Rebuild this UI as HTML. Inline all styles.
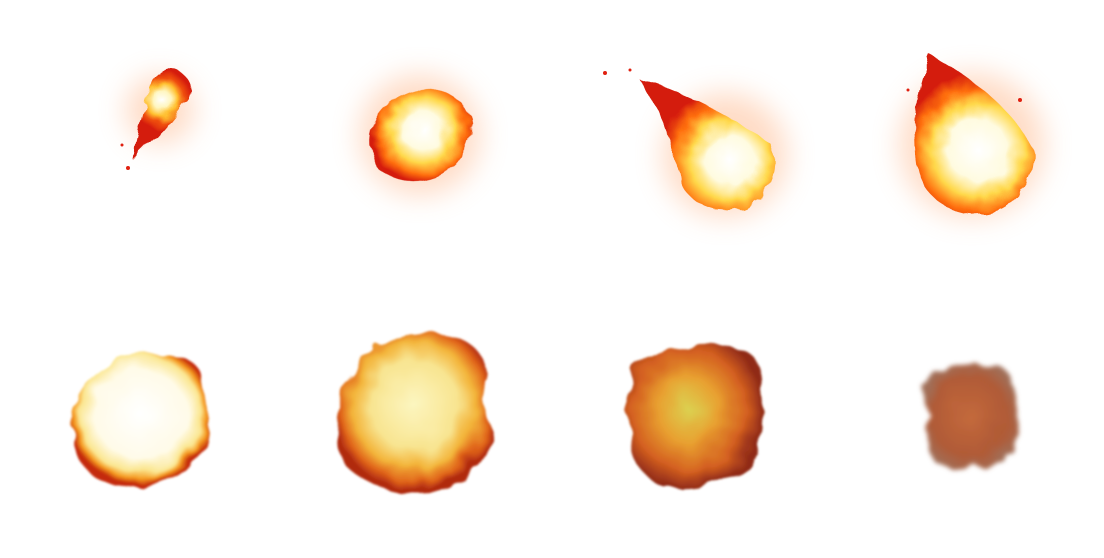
<!DOCTYPE html>
<html><head><meta charset="utf-8"><style>
html,body{margin:0;padding:0;background:#fff;width:1104px;height:558px;overflow:hidden}
</style></head><body>
<svg width="1104" height="558" viewBox="0 0 1104 558">
<defs>
<filter id="rough" x="-20%" y="-20%" width="140%" height="140%">
<feTurbulence type="fractalNoise" baseFrequency="0.06" numOctaves="2" seed="3"/>
<feDisplacementMap in="SourceGraphic" scale="10"/>
</filter>
<filter id="roughSoft" x="-30%" y="-30%" width="160%" height="160%">
<feTurbulence type="fractalNoise" baseFrequency="0.04" numOctaves="2" seed="7" result="n"/>
<feDisplacementMap in="SourceGraphic" in2="n" scale="14" result="d"/>
<feGaussianBlur in="d" stdDeviation="1"/>
</filter>
<filter id="blurBrown" x="-30%" y="-30%" width="160%" height="160%">
<feTurbulence type="fractalNoise" baseFrequency="0.05" numOctaves="2" seed="9" result="n"/>
<feDisplacementMap in="SourceGraphic" in2="n" scale="14" result="d"/>
<feGaussianBlur in="d" stdDeviation="2.5"/>
</filter>
<filter id="glow" x="-50%" y="-50%" width="200%" height="200%"><feGaussianBlur stdDeviation="14"/></filter>
<radialGradient id="f1" gradientUnits="userSpaceOnUse" cx="162" cy="100" r="30">
<stop offset="0" stop-color="#fff"/><stop offset="0.3" stop-color="#fff6c0"/><stop offset="0.55" stop-color="#ffc030"/><stop offset="0.75" stop-color="#f05010"/><stop offset="1" stop-color="#d41a08"/></radialGradient>
<radialGradient id="f2" gradientUnits="userSpaceOnUse" cx="425" cy="132" r="55">
<stop offset="0" stop-color="#fff"/><stop offset="0.35" stop-color="#fffbe0"/><stop offset="0.6" stop-color="#ffd84a"/><stop offset="0.8" stop-color="#ff7010"/><stop offset="0.95" stop-color="#d41a08"/></radialGradient>
<radialGradient id="f3" gradientUnits="userSpaceOnUse" cx="730" cy="160" r="80">
<stop offset="0" stop-color="#fff"/><stop offset="0.3" stop-color="#fffbe0"/><stop offset="0.5" stop-color="#ffd84a"/><stop offset="0.7" stop-color="#ff7010"/><stop offset="0.9" stop-color="#d41a08"/></radialGradient>
<radialGradient id="f4" gradientUnits="userSpaceOnUse" cx="978" cy="150" r="85">
<stop offset="0" stop-color="#fff"/><stop offset="0.35" stop-color="#fffbe0"/><stop offset="0.55" stop-color="#ffd84a"/><stop offset="0.72" stop-color="#ff7010"/><stop offset="0.9" stop-color="#d41a08"/></radialGradient>
<radialGradient id="exp1" cx="0.5" cy="0.45" r="0.55">
<stop offset="0" stop-color="#fff"/><stop offset="0.6" stop-color="#fffbe8"/>
<stop offset="0.8" stop-color="#fbe690"/><stop offset="0.88" stop-color="#f59a20"/>
<stop offset="0.96" stop-color="#c42a0a"/></radialGradient>
<radialGradient id="exp2" cx="0.5" cy="0.45" r="0.55">
<stop offset="0" stop-color="#fcf6c0"/><stop offset="0.5" stop-color="#f8e490"/>
<stop offset="0.72" stop-color="#f3b43a"/><stop offset="0.86" stop-color="#e0641a"/>
<stop offset="0.96" stop-color="#b02a10"/></radialGradient>
<radialGradient id="exp3" cx="0.45" cy="0.45" r="0.55">
<stop offset="0" stop-color="#dcd050"/><stop offset="0.4" stop-color="#e8a030"/>
<stop offset="0.75" stop-color="#d46020"/><stop offset="1" stop-color="#902a18"/></radialGradient>
<radialGradient id="exp4" cx="0.5" cy="0.5" r="0.55">
<stop offset="0" stop-color="#c46a3c"/><stop offset="0.7" stop-color="#b05a36"/>
<stop offset="1" stop-color="#a0705a"/></radialGradient>
</defs>

<g>
<circle cx="160" cy="110" r="34" fill="#ffb080" opacity="0.45" filter="url(#glow)"/>
<path d="M133,160 Q165 130 188 98 A20 20 0 1 0 150 90 Q 138 125 133 160 Z" fill="url(#f1)" filter="url(#rough)"/>
<circle cx="128" cy="168" r="2" fill="#e02010"/><circle cx="122" cy="145" r="1.5" fill="#e02010"/>
</g>
<g>
<circle cx="420" cy="135" r="60" fill="#ffb080" opacity="0.45" filter="url(#glow)"/>
<ellipse cx="420" cy="135" rx="52" ry="44" transform="rotate(-30 420 135)" fill="url(#f2)" filter="url(#rough)"/>
</g>
<g>
<circle cx="725" cy="155" r="62" fill="#ffb080" opacity="0.45" filter="url(#glow)"/>
<path d="M638,78 Q 710 100 772 145 A 46 46 0 1 1 680 180 Q 670 125 638 78 Z" fill="url(#f3)" filter="url(#rough)"/>
<circle cx="605" cy="73" r="2" fill="#e02010"/><circle cx="630" cy="70" r="1.5" fill="#e02010"/>
</g>
<g>
<circle cx="972" cy="145" r="72" fill="#ffb080" opacity="0.45" filter="url(#glow)"/>
<path d="M930,55 Q 1005 95 1034 150 A 58 58 0 1 1 916 160 Q 910 100 930 55 Z" fill="url(#f4)" filter="url(#rough)"/>
<circle cx="1020" cy="100" r="2" fill="#e02010"/><circle cx="908" cy="90" r="1.5" fill="#e02010"/>
</g>

<g>
<path d="M90,380 Q120 350 160 355 Q200 350 205 390 Q215 430 200 460 Q160 495 110 485 Q70 470 72 420 Q75 395 90,380 Z" fill="url(#exp1)" filter="url(#roughSoft)"/>
</g>
<g>
<path d="M350,375 Q380 330 430 332 Q485 335 488 380 Q478 400 492 430 Q485 475 440 492 Q380 500 345 465 Q325 430 350,375 Z" fill="url(#exp2)" filter="url(#roughSoft)"/>
</g>
<g>
<path d="M635,370 Q670 340 720 345 Q765 345 762 390 Q768 430 752 465 Q710 495 665 488 Q628 470 630 430 Q622 395 635,370 Z" fill="url(#exp3)" filter="url(#roughSoft)"/>
</g>
<g>
<path d="M925,375 Q955 360 990 365 Q1020 370 1015 400 Q1022 430 1005 460 Q965 475 935 462 Q920 440 930 415 Q915 395 925,375 Z" fill="url(#exp4)" filter="url(#blurBrown)"/>
</g>
</svg>
</body></html>
